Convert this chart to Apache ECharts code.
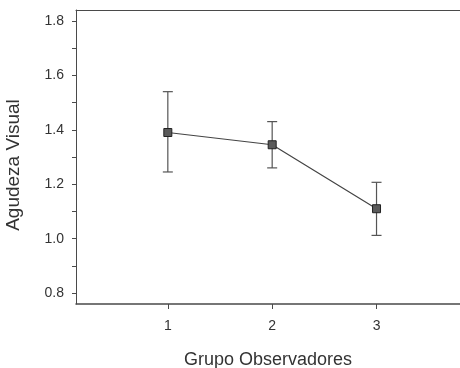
<!DOCTYPE html>
<html>
<head>
<meta charset="utf-8">
<script src="https://cdn.jsdelivr.net/npm/echarts@6/dist/echarts.min.js"></script>
<style>
  html, body { margin: 0; padding: 0; background: #fff; }
  #chart { width: 460px; height: 368px; }
</style>
</head>
<body>
<div id="chart"></div>
<script>
// grupos de observadores y agudeza visual media con su intervalo
const grupos = [1, 2, 3];
const medias = [1.39, 1.345, 1.11];
const inferior = [1.245, 1.26, 1.012];
const superior = [1.54, 1.43, 1.207];
const xTicks = [1, 2, 3];
const yLabels = [0.8, 1.0, 1.2, 1.4, 1.6, 1.8];
const yTicks = [0.8, 0.9, 1.0, 1.1, 1.2, 1.3, 1.4, 1.5, 1.6, 1.7, 1.8];

const chart = echarts.init(document.getElementById('chart'));
const ink = '#4a4a4a';
const font = 'Liberation Sans, Arial, sans-serif';

const option = {
  animation: false,
  grid: { left: 76, top: 10, right: 0, bottom: 64, outerBoundsMode: 'none', containLabel: false },
  xAxis: [
    {
      type: 'value',
      min: 0.12,
      max: 3.8,
      name: 'Grupo Observadores',
      nameLocation: 'middle',
      nameGap: 47,
      nameTextStyle: { color: '#333', fontSize: 18, fontFamily: font },
      axisLine: { show: true, lineStyle: { color: ink, width: 1.5 } },
      axisTick: { show: true, customValues: xTicks, length: 5, lineStyle: { color: ink } },
      axisLabel: { customValues: xTicks, color: '#333', fontSize: 14, fontFamily: font, margin: 15 },
      splitLine: { show: false }
    },
    {
      type: 'value',
      position: 'top',
      min: 0.12,
      max: 3.8,
      axisLine: { show: true, lineStyle: { color: ink, width: 1 } },
      axisTick: { show: false },
      axisLabel: { show: false },
      splitLine: { show: false }
    }
  ],
  yAxis: {
    type: 'value',
    min: 0.76,
    max: 1.84,
    name: 'Agudeza Visual',
    nameLocation: 'middle',
    nameGap: 53,
    nameTextStyle: { color: '#333', fontSize: 19, fontFamily: font, padding: [0, 16, 0, 0] },
    axisLine: { show: true, lineStyle: { color: ink, width: 1 } },
    axisTick: { show: true, customValues: yTicks, length: 4, lineStyle: { color: ink } },
    axisLabel: {
      customValues: yLabels,
      color: '#333',
      fontSize: 14,
      fontFamily: font,
      margin: 12,
      formatter: v => v.toFixed(1)
    },
    splitLine: { show: false }
  },
  series: [
    {
      type: 'custom',
      data: grupos.map((g, i) => [g, inferior[i], superior[i]]),
      renderItem: function (params, api) {
        const lo = api.coord([api.value(0), api.value(1)]);
        const hi = api.coord([api.value(0), api.value(2)]);
        const w = 5;
        const style = { stroke: '#555', lineWidth: 1.2 };
        return {
          type: 'group',
          children: [
            { type: 'line', shape: { x1: hi[0], y1: hi[1], x2: lo[0], y2: lo[1] }, style: style },
            { type: 'line', shape: { x1: hi[0] - w, y1: hi[1], x2: hi[0] + w, y2: hi[1] }, style: style },
            { type: 'line', shape: { x1: lo[0] - w, y1: lo[1], x2: lo[0] + w, y2: lo[1] }, style: style }
          ]
        };
      }
    },
    {
      type: 'line',
      data: grupos.map((g, i) => [g, medias[i]]),
      symbol: 'rect',
      symbolSize: 8,
      lineStyle: { color: '#444', width: 1.2 },
      itemStyle: { color: '#5a5a5a', borderColor: '#222', borderWidth: 1 },
      z: 3
    }
  ]
};

chart.setOption(option);
</script>
</body>
</html>
